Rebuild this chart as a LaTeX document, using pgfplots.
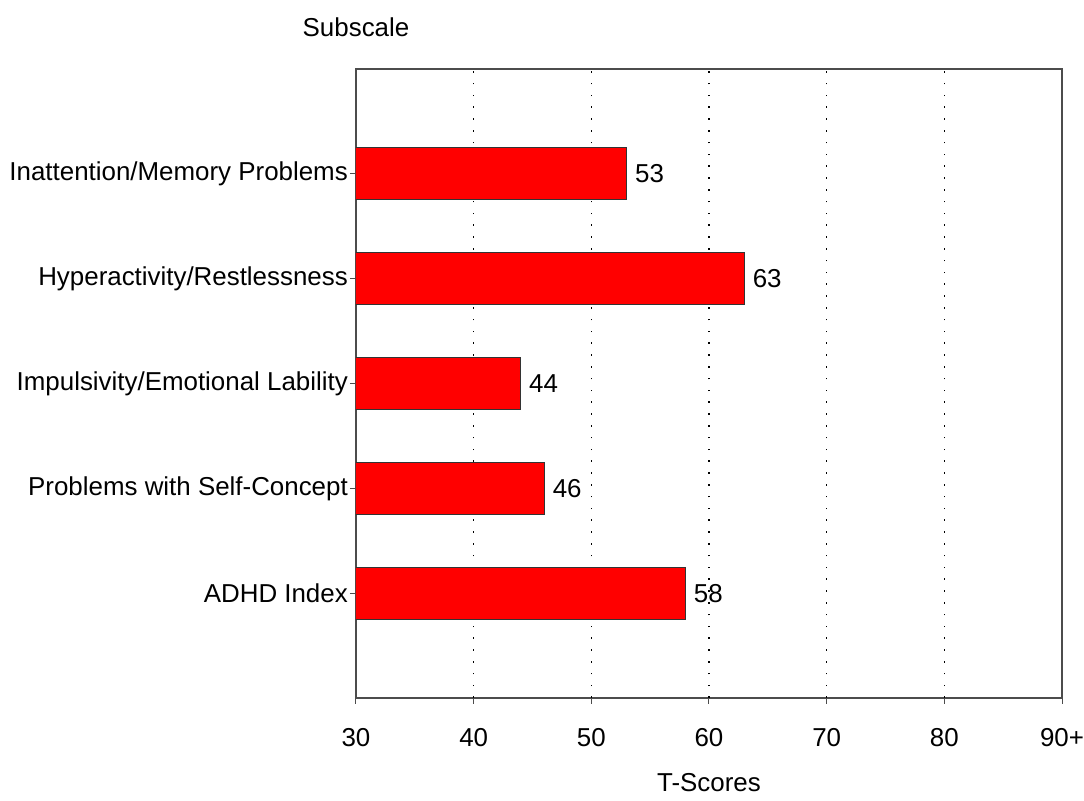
\documentclass[border=0pt]{standalone}
\usepackage{fontspec}
\setmainfont{Liberation Sans}
\usepackage{pgfplots}
\usepackage{pgfplotstable}
\pgfplotsset{compat=1.18}
\pgfplotstableread{
x y v
23 5 53
33 4 63
14 3 44
16 2 46
28 1 58
}\scores
\begin{document}
\fontsize{26}{31}\selectfont
\begin{tikzpicture}
\begin{axis}[
  name=ax,
  scale only axis,
  width=706bp, height=629bp,
  xmin=0, xmax=60, ymin=0, ymax=6,
  xbar, bar width=52bp,
  xtick={0,10,20,30,40,50,60},
  xticklabels={30,40,50,60,70,80,90+},
  extra x ticks={10,20,30,40,50},
  extra x tick labels={},
  extra x tick style={grid=major},
  ytick={1,2,3,4,5},
  yticklabels={ADHD Index,Problems with Self-Concept,Impulsivity/Emotional Lability,Hyperactivity/Restlessness,Inattention/Memory Problems},
  tick align=outside, major tick length=6bp,
  xtick pos=bottom, ytick pos=left,
  axis line style={black!70, line width=1.2bp},
  tick style={black!70, line width=1bp},
  major grid style={black, line width=1.6bp, dash pattern=on 1.6bp off 10.2bp},
  xticklabel style={yshift=-16bp, inner xsep=0pt},
  yticklabel style={inner sep=2bp},
  /pgf/number format/assume math mode=true,
  xlabel={T-Scores},
  xlabel style={at={(axis description cs:0.5,-0.135)}, anchor=center},
  point meta=explicit,
  nodes near coords,
  nodes near coords style={anchor=west, inner sep=8bp, black},
  every node near coord/.append style={font=\fontsize{26}{31}\selectfont},
]
\addplot[fill=red, draw=black!80, line width=1bp] table[x=x, y=y, meta=v] {\scores};
\end{axis}
\node at ([yshift=42bp]ax.north west) {Subscale};
\path ([xshift=-356bp,yshift=-97bp]ax.south west) rectangle ++(1084bp,795bp);
\end{tikzpicture}
\end{document}
